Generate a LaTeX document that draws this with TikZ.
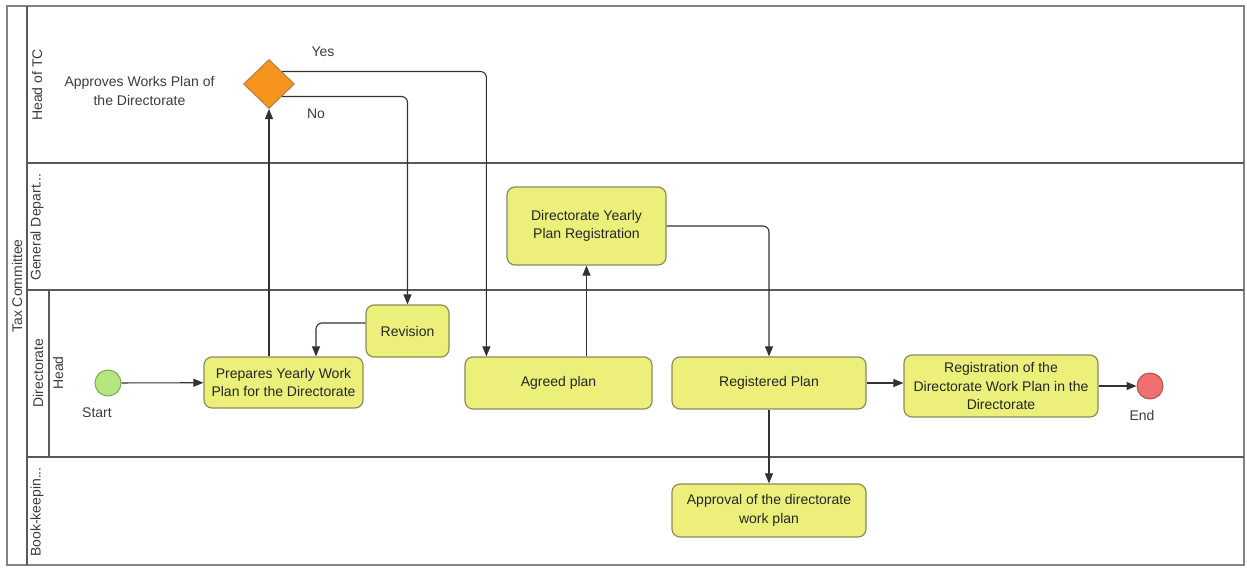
\documentclass[tikz,border=0pt]{standalone}
\usepackage{fontspec}
\setmainfont{Liberation Sans}
\usetikzlibrary{shapes.geometric,arrows.meta}

\definecolor{taskfill}{RGB}{236,240,122}
\definecolor{taskline}{RGB}{140,140,90}
\definecolor{gatefill}{RGB}{247,148,30}
\definecolor{gateline}{RGB}{176,128,74}
\definecolor{startfill}{RGB}{182,230,125}
\definecolor{startline}{RGB}{120,170,90}
\definecolor{endfill}{RGB}{240,112,112}
\definecolor{endline}{RGB}{176,80,80}
\definecolor{laneline}{RGB}{90,90,90}
\definecolor{pooledge}{RGB}{130,130,130}
\definecolor{flowline}{RGB}{50,50,50}
\definecolor{labeltext}{RGB}{60,60,60}

\tikzset{
  txt/.style={font=\fontsize{14}{18.5}\selectfont, text=labeltext},
  task/.style={draw=taskline, fill=taskfill, line width=1.2pt, rounded corners=8pt,
    align=center, inner sep=2pt, font=\fontsize{14}{18.5}\selectfont, text=black!85},
  gate/.style={diamond, draw=gateline, fill=gatefill, line width=1pt,
    minimum width=51pt, minimum height=49pt, inner sep=0pt},
  startev/.style={circle, draw=startline, fill=startfill, line width=1pt,
    minimum size=26pt, inner sep=0pt},
  endev/.style={circle, draw=endline, fill=endfill, line width=1pt,
    minimum size=26pt, inner sep=0pt},
  flow/.style={draw=flowline, line width=1.1pt, rounded corners=6pt,
    -{Triangle[length=10pt,width=8pt]}},
  lanetitle/.style={rotate=90, font=\fontsize{14}{16}\selectfont, text=labeltext},
  lane/.style={draw=laneline, line width=1.4pt}
}

\begin{document}
\begin{tikzpicture}[x=1pt,y=-1pt]
  \useasboundingbox (0,0) rectangle (1247,568);

  % pool outline and lane separators
  \draw[draw=pooledge, line width=2.2pt] (7,6) rectangle (1244,565);
  \draw[lane] (27,6) -- (27,565);
  \draw[lane] (27,163) -- (1244,163);
  \draw[lane] (27,290) -- (1244,290);
  \draw[lane] (27,457) -- (1244,457);
  \draw[lane] (49,290) -- (49,457);

  % pool and lane titles
  \node[lanetitle] (pooltitle) at (17,286) {Tax Committee};
  \node[lanetitle] (lanetc)   at (37,85)  {Head of TC};
  \node[lanetitle] (lanegen)  at (37,227) {General Depart...};
  \node[lanetitle] (lanedir)  at (38,373) {Directorate};
  \node[lanetitle] (lanehead) at (58,373) {Head};
  \node[lanetitle] (lanebook) at (37,512) {Book-keepin...};

  % events, gateway and tasks
  \node[startev] (start) at (108,383) {};
  \node[txt] (startlbl) at (97,413) {Start};

  \node[task, minimum width=159pt, minimum height=51pt] (prep) at (283.5,382.5)
    {Prepares Yearly Work\\Plan for the Directorate};

  \node[gate] (dia) at (269,84) {};
  \node[txt, align=center] (dialbl) at (139.5,91) {Approves Works Plan of\\the Directorate};
  \node[txt] (yes) at (323,52) {Yes};
  \node[txt] (no)  at (316,114) {No};

  \node[task, minimum width=83pt, minimum height=52pt] (rev) at (407.5,331) {Revision};

  \node[task, minimum width=187pt, minimum height=52pt] (agreed) at (558.5,383) {Agreed plan};

  \node[task, minimum width=159pt, minimum height=78pt] (dyr) at (586.5,226)
    {Directorate Yearly\\Plan Registration};

  \node[task, minimum width=194pt, minimum height=52pt] (reg) at (769,383) {Registered Plan};

  \node[task, minimum width=194pt, minimum height=53pt] (appr) at (769,510.5)
    {Approval of the directorate\\work plan};

  \node[task, minimum width=194pt, minimum height=62pt] (regdir) at (1001,386)
    {Registration of the\\Directorate Work Plan in the\\Directorate};

  \node[endev] (end) at (1150,386) {};
  \node[txt] (endlbl) at (1142,415) {End};

  % sequence flows
  \draw[flow] (start) -- (prep);
  \draw[flow] (prep.north -| dia.south) -- (dia.south);
  \draw[flow] (dia.north east) -| ([xshift=22pt]agreed.north west);
  \draw[flow] (dia.south east) -| (rev.north);
  \draw[flow] ([yshift=8pt]rev.west) -| ([xshift=32.5pt]prep.north);
  \draw[flow] (agreed.north -| dyr.south) -- (dyr.south);
  \draw[flow] (dyr.east) -| (reg.north);
  \draw[flow] (reg.east) -- (reg.east -| regdir.west);
  \draw[flow] (reg.south) -- (appr.north);
  \draw[flow] (regdir.east) -- (end.west);
\end{tikzpicture}
\end{document}
